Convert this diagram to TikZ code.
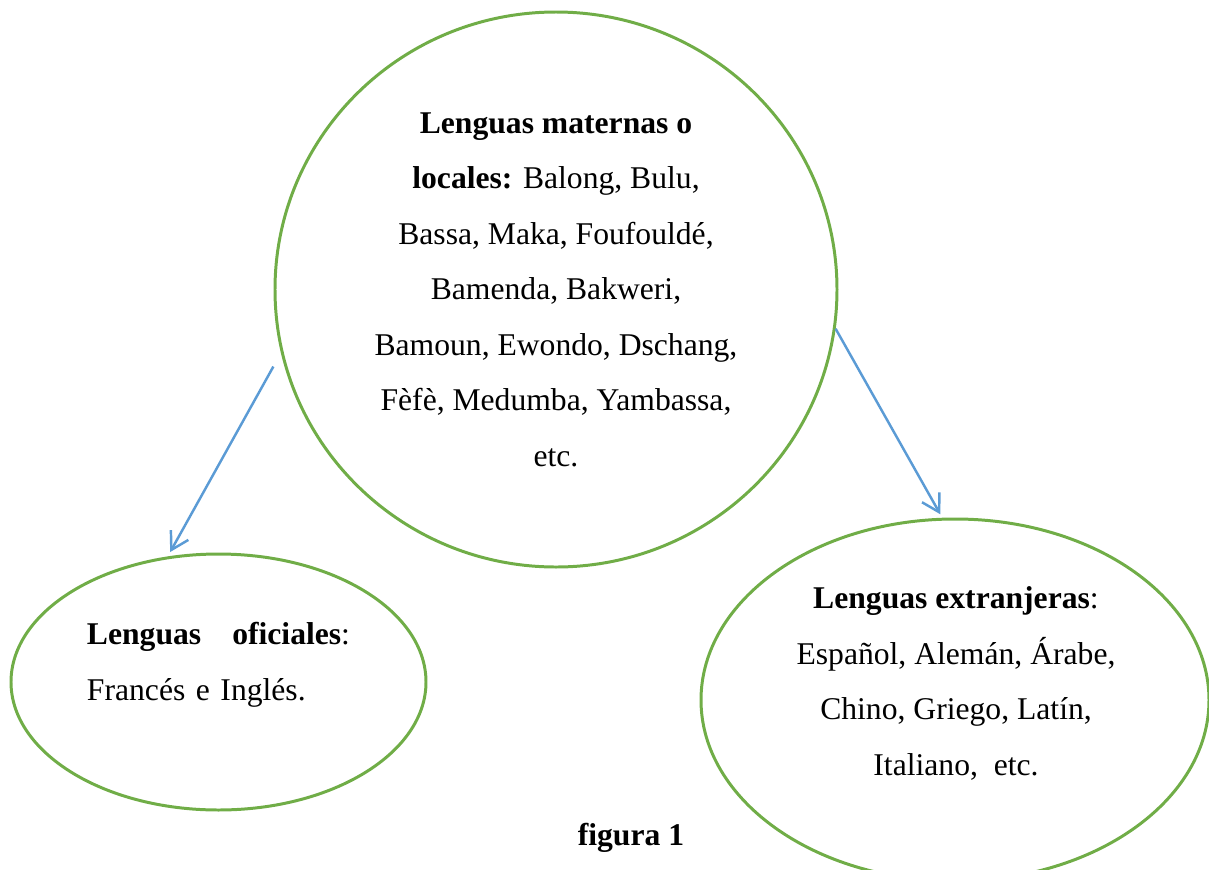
\documentclass[tikz,border=0pt]{standalone}
\usepackage{fontspec}
\setmainfont{Liberation Serif}
\usetikzlibrary{shapes.geometric,arrows.meta}
\definecolor{verde}{HTML}{70AD47}
\definecolor{azul}{HTML}{5B9BD5}
\begin{document}
\begin{tikzpicture}[
    burbuja/.style={draw=verde,line width=1.7pt,ellipse,inner sep=0pt},
    texto/.style={inner sep=0pt,font=\fontsize{18pt}{31.6pt}\selectfont},
    flecha/.style={draw=azul,line width=1.4pt,-{Straight Barb[length=3.4mm,width=4mm]}}]
    \useasboundingbox (0,0) rectangle (24.18,-17.4);

    \node[burbuja,texto,align=center,minimum width=11.24cm,minimum height=11.1cm] (maternas) at (11.12,-5.79)
        {\textbf{Lenguas maternas o}\\ \textbf{locales:} Balong, Bulu,\\ Bassa, Maka, Foufouldé,\\ Bamenda, Bakweri,\\ Bamoun, Ewondo, Dschang,\\ Fèfè, Medumba, Yambassa,\\ etc.};

    \node[burbuja,minimum width=8.3cm,minimum height=5.12cm] (oficiales) at (4.37,-13.64) {};
    \node[texto,align=left,text width=5.26cm] (oficialestxt) at (4.37,-13.3)
        {\textbf{Lenguas}\hfill\textbf{oficiales}:\\ Francés e Inglés.};

    \node[burbuja,minimum width=10.16cm,minimum height=7.24cm] (extranjeras) at (19.1,-14.0) {};
    \node[texto,align=center] (extranjerastxt) at (19.12,-13.67)
        {\textbf{Lenguas extranjeras}:\\ Español, Alemán, Árabe,\\ Chino, Griego, Latín,\\ Italiano,\ \ etc.};

    \node[texto,font=\fontsize{18pt}{22pt}\selectfont\bfseries] (figura) at (12.62,-16.76) {figura 1};

    \draw[flecha,shorten >=0.1cm] ([shift={(-0.2cm,-0.08cm)}]maternas.195) -- (oficiales.112);
    \draw[flecha,shorten >=0.08cm] (maternas.-8) -- (extranjeras.94);
\end{tikzpicture}
\end{document}
